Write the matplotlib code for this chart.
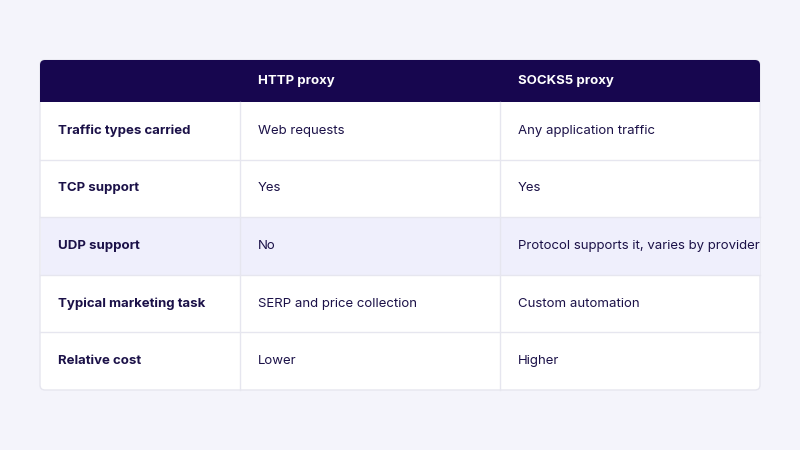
import matplotlib.pyplot as plt
from matplotlib.patches import FancyBboxPatch, Rectangle

columns = ["", "HTTP proxy", "SOCKS5 proxy"]
row_labels = ["Traffic types carried", "TCP support", "UDP support",
              "Typical marketing task", "Relative cost"]
http_vals = ["Web requests", "Yes", "No", "SERP and price collection", "Lower"]
socks_vals = ["Any application traffic", "Yes",
              "Protocol supports it, varies by provider",
              "Custom automation", "Higher"]
highlight_row = 2

BG = "#f4f4fb"
HEAD = "#17064f"
TXT = "#1b1148"
LINE = "#e6e6ef"

fig = plt.figure(figsize=(8, 4.5), dpi=100, facecolor=BG)
ax = fig.add_axes([0, 0, 1, 1])
ax.set_xlim(0, 800)
ax.set_ylim(450, 0)
ax.axis("off")

left, right = 40, 760
top, head_bot = 60, 102
row_h = 57.6
col_x = [40, 240, 500, 760]
bottom = head_bot + row_h * len(row_labels)

# table body with rounded corners
ax.add_patch(FancyBboxPatch((left, top), right - left, bottom - top,
                            boxstyle="round,pad=0,rounding_size=5",
                            fc="white", ec=LINE, lw=1, zorder=1))
ax.add_patch(FancyBboxPatch((left, top), right - left, head_bot - top,
                            boxstyle="round,pad=0,rounding_size=5",
                            fc=HEAD, ec="none", zorder=2))
ax.add_patch(Rectangle((left, head_bot - 8), right - left, 8, fc=HEAD, ec="none", zorder=2))

for j, c in enumerate(columns):
    ax.text(col_x[j] + 18, (top + head_bot) / 2, c, color="white", fontsize=9.5,
            fontweight="bold", family="Inter", va="center", zorder=3)

for i, lab in enumerate(row_labels):
    y0 = head_bot + i * row_h
    if i == highlight_row:
        ax.add_patch(Rectangle((left + 0.5, y0), right - left - 1, row_h,
                               fc="#efeffc", ec="none", zorder=1.5))
    if i > 0:
        ax.plot([left, right], [y0, y0], color=LINE, lw=1, zorder=2)
    yc = y0 + row_h / 2
    ax.text(col_x[0] + 18, yc, lab, color=TXT, fontsize=9.5, fontweight="bold",
            family="Inter", va="center", zorder=3)
    ax.text(col_x[1] + 18, yc, http_vals[i], color=TXT, fontsize=9.5,
            family="Inter", va="center", zorder=3)
    ax.text(col_x[2] + 18, yc, socks_vals[i], color=TXT, fontsize=9.5,
            family="Inter", va="center", zorder=3)

for x in col_x[1:3]:
    ax.plot([x, x], [head_bot, bottom], color=LINE, lw=1, zorder=2)

fig.savefig("out.png", dpi=100, facecolor=BG)
